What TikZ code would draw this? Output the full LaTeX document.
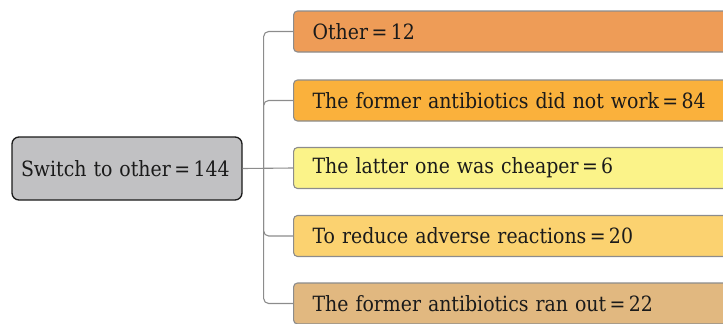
\documentclass[tikz,border=0pt]{standalone}
\usepackage{fontspec}
\setmainfont[FakeStretch=0.9,WordSpace=0.75]{DejaVu Serif}
\newcommand{\eqsign}{\hspace{0.16em}=\hspace{0.16em}}
\definecolor{cOther}{HTML}{EE9C57}
\definecolor{cWork}{HTML}{FAB13C}
\definecolor{cCheap}{HTML}{FBF389}
\definecolor{cAdverse}{HTML}{FBD270}
\definecolor{cRan}{HTML}{E1B880}
\definecolor{cRoot}{HTML}{C1C1C3}
\definecolor{cLine}{HTML}{8C8C8C}
\definecolor{cText}{HTML}{1A1A1A}
\begin{document}
\begin{tikzpicture}[x=1pt,y=-1pt,
  every node/.style={font=\fontsize{21}{24}\selectfont, text=cText},
  child/.style={draw=cLine, line width=1.1pt, rounded corners=4pt, anchor=west,
    minimum height=41pt, text width=420pt, align=left, inner xsep=19pt, inner ysep=0pt},
  rootbox/.style={draw=cText, fill=cRoot, line width=1.3pt, rounded corners=7pt,
    minimum width=230pt, minimum height=63pt, text width=212pt, align=left, inner xsep=9pt},
  conn/.style={draw=cLine, line width=1.1pt, rounded corners=5pt}]
\useasboundingbox (0,0) rectangle (723,324);
\clip (0,0) rectangle (723,324);
\node[rootbox] (root) at (127,168.5) {Switch to other\,=\,144};
\node[child, fill=cOther] (c1) at (293,31.5) {Other\,=\,12};
\node[child, fill=cWork] (c2) at (293,100.5) {The former antibiotics did not work\eqsign 84};
\node[child, fill=cCheap] (c3) at (293,168) {The latter one was cheaper\eqsign 6};
\node[child, fill=cAdverse] (c4) at (293,236) {To reduce adverse reactions\eqsign 20};
\node[child, fill=cRan] (c5) at (293,303.5) {The former antibiotics ran out\eqsign 22};
\coordinate (j) at ([xshift=21pt]root.east);
\draw[conn] (root.east) -- (c3.west);
\foreach \c in {c1,c2,c4,c5}{
  \draw[conn] (j) |- (\c.west);
}
\end{tikzpicture}
\end{document}
